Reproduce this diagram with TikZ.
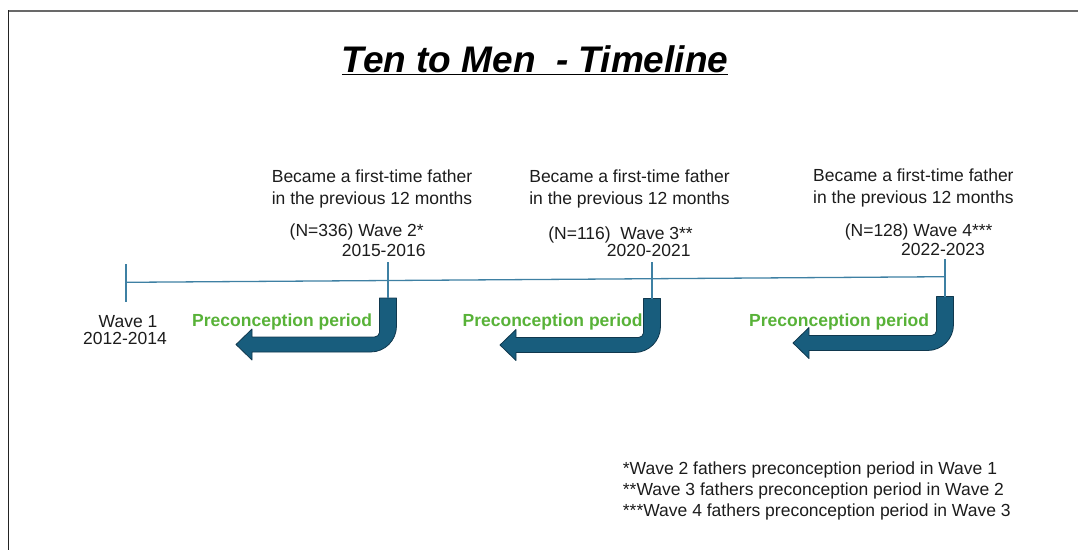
\documentclass[tikz,border=0pt]{standalone}
\usepackage{fontspec}
\setmainfont{Liberation Sans}
\usetikzlibrary{shapes,arrows}
\definecolor{timeblue}{RGB}{62,128,163}
\definecolor{arrowfill}{RGB}{24,93,125}
\definecolor{arrowedge}{RGB}{16,56,78}
\definecolor{precgreen}{RGB}{88,178,56}
\definecolor{textdark}{RGB}{28,28,28}
\newcommand{\bentarrow}[1]{%
  \begin{scope}[shift={(#1)}]
    \filldraw[arrow_bent] (-8.5,0) -- (8.5,0) -- (8.5,28)
      .. controls (8.5,42.4) and (-3.1,54) .. (-17.5,54)
      -- (-136,54) -- (-136,62) -- (-152,46.5) -- (-136,31) -- (-136,39)
      -- (-13.5,39) .. controls (-11,39) and (-8.5,37) .. (-8.5,34.5) -- cycle;
  \end{scope}}

\begin{document}
\begin{tikzpicture}[x=1pt,y=-1pt,
    title_text/.style ={inner sep=0pt, text=black,
      font=\fontsize{37}{44}\selectfont\bfseries\itshape},
    block_father/.style ={inner sep=0pt, text=textdark, align=center,
      font=\fontsize{17.5}{21.5}\selectfont},
    block_wave/.style ={inner sep=0pt, text=textdark, anchor=base east,
      font=\fontsize{17.5}{21.5}\selectfont},
    block_green/.style ={inner sep=0pt, text=precgreen, anchor=base east,
      font=\fontsize{17.5}{21.5}\selectfont\bfseries},
    block_note/.style ={inner sep=0pt, text=textdark, align=left, anchor=north west,
      font=\fontsize{17.5}{21}\selectfont},
    arrow_bent/.style ={fill=arrowfill, draw=arrowedge, line width=0.8pt, line join=round},
    line/.style ={draw=timeblue, line width=1.3pt}]
    \useasboundingbox (0,0) rectangle (1078,550);
    % page frame
    \draw[draw={rgb,255:red,105;green,105;blue,105}, line width=2.4pt] (8,11) -- (1078,11);
    \draw[draw={rgb,255:red,35;green,35;blue,35}, line width=1.6pt] (8.5,10) -- (8.5,550);
    % title
    \node[title_text, anchor=base] (title) at (535,72.7) {\underline{Ten to Men\ \ - Timeline}};
    % points on the timeline
    \coordinate (tl_start) at (126,282.3);
    \coordinate (tl_end) at (945,276.7);
    \coordinate (tick1_top) at (126,264);
    \coordinate (tick1_bot) at (126,302);
    \coordinate (tick2_top) at (388,262);
    \coordinate (tick2_bot) at (388,298);
    \coordinate (tick3_top) at (652,262);
    \coordinate (tick3_bot) at (652,298.5);
    \coordinate (tick4_top) at (945,259);
    \coordinate (tick4_bot) at (945,296.5);
    % wave labels
    \node[block_father] (father2) at (372,189) {Became a first-time father\\in the previous 12 months};
    \node[block_father] (father3) at (629.5,189) {Became a first-time father\\in the previous 12 months};
    \node[block_father] (father4) at (913.4,188) {Became a first-time father\\in the previous 12 months};
    \node[block_wave] (wave2) at (424,236) {(N=336) Wave 2*};
    \node[block_wave] (year2) at (425.7,256) {2015-2016};
    \node[block_wave] (wave3) at (693,239) {(N=116)\ \ Wave 3**};
    \node[block_wave] (year3) at (690.7,256) {2020-2021};
    \node[block_wave] (wave4) at (992.7,236) {(N=128) Wave 4***};
    \node[block_wave] (year4) at (985,255) {2022-2023};
    \node[block_wave, anchor=base] (wave1) at (128,327) {Wave 1};
    \node[block_wave, anchor=base] (year1) at (125,344.5) {2012-2014};
    % preconception arrows
    \bentarrow{tick2_bot}
    \bentarrow{tick3_bot}
    \bentarrow{tick4_bot}
    \node[block_green] (prec2) at (372.3,326.5) {Preconception period};
    \node[block_green] (prec3) at (642.7,326.5) {Preconception period};
    \node[block_green] (prec4) at (929.3,326) {Preconception period};
    % connecting points with lines
    \begin{scope}[every path/.style=line]
      \path (tl_start) -- (tl_end);
      \path (tick1_top) -- (tick1_bot);
      \path (tick2_top) -- (tick2_bot);
      \path (tick3_top) -- (tick3_bot);
      \path (tick4_top) -- (tick4_bot);
    \end{scope}
    % footnotes
    \node[block_note] (notes) at (622.7,461.7) {*Wave 2 fathers preconception period in Wave 1\\
      **Wave 3 fathers preconception period in Wave 2\\
      ***Wave 4 fathers preconception period in Wave 3};
  \end{tikzpicture}
\end{document}
